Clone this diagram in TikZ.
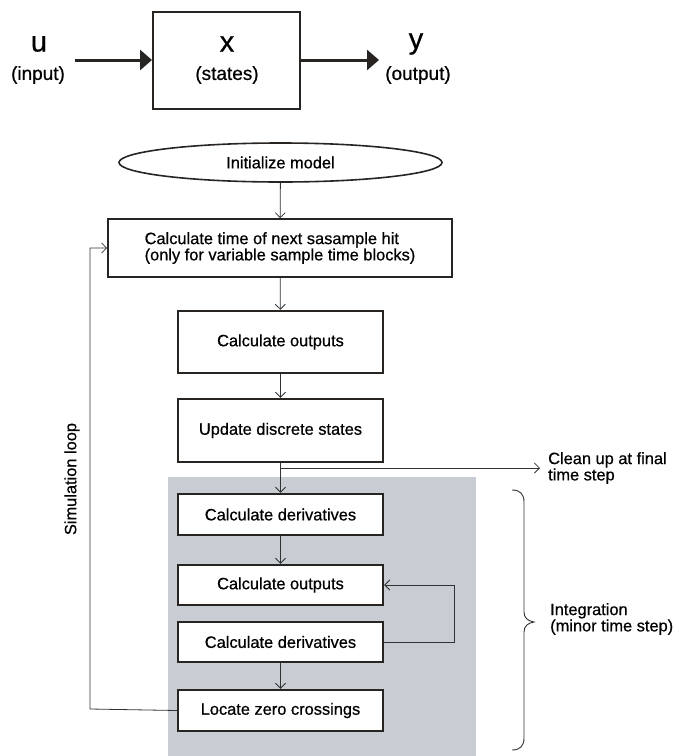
\documentclass[tikz,border=0pt]{standalone}
\usepackage{fontspec}
\setmainfont{Liberation Sans}[FakeBold=0.6]
\usetikzlibrary{arrows.meta,shapes.geometric}
\definecolor{graybg}{RGB}{200,205,212}
\definecolor{ink}{RGB}{40,36,33}
\definecolor{thin}{RGB}{50,50,50}
\tikzset{
  flowbox/.style={draw=ink,line width=2.4pt,fill=white,minimum width=205pt,inner sep=0pt,font=\fontsize{16.4}{15}\selectfont},
  conn/.style={draw=thin,line width=0.8pt,-{Straight Barb[length=5pt,width=10pt]}},
  bigarrow/.style={draw=ink,line width=3pt,-{Triangle[length=12pt,width=20pt]}},
  lbl/.style={font=\fontsize{16.4}{15}\selectfont,align=left,inner sep=0pt},
}
\begin{document}
\begin{tikzpicture}[x=1pt,y=-1pt]
\useasboundingbox (0,0) rectangle (686,756);
% top system block
\node[draw=ink,line width=2pt,minimum width=147pt,minimum height=97pt,inner sep=0pt] (sys) at (226.5,60.5) {};
\node[font=\fontsize{29}{29}\selectfont,inner sep=0pt] (u) at (39,44) {u};
\node[font=\fontsize{19}{19}\selectfont,inner sep=0pt] (uin) at (38,75) {(input)};
\node[font=\fontsize{29}{29}\selectfont,inner sep=0pt] (xs) at (227,44) {x};
\node[font=\fontsize{19}{19}\selectfont,inner sep=0pt] (xst) at (227,75) {(states)};
\node[font=\fontsize{29}{29}\selectfont,inner sep=0pt] (y) at (416,44) {y};
\node[font=\fontsize{19}{19}\selectfont,inner sep=0pt] (yout) at (418,75) {(output)};
\coordinate (uarr) at (75,60);
\coordinate (yarr) at (379,60);
\draw[bigarrow] (uarr) -- (sys.west |- uarr);
\draw[bigarrow] (sys.east |- yarr) -- (yarr);

% gray integration region
\fill[graybg] (168,477) rectangle (476,756);

% flow chart
\node[draw=ink,line width=1.6pt,ellipse,minimum width=323pt,minimum height=39pt,inner sep=0pt,font=\fontsize{16.4}{15}\selectfont] (init) at (280.5,162.5) {Initialize model};
\node[draw=ink,line width=1.6pt,minimum width=344pt,minimum height=58pt,inner sep=0pt,font=\fontsize{16.4}{15}\selectfont,align=left] (hit) at (280,248) {Calculate time of next sasample hit\\(only for variable sample time blocks)};
\node[flowbox,minimum height=62pt] (out1) at (280.5,342) {Calculate outputs};
\node[flowbox,minimum height=63pt] (upd) at (280.5,430.5) {Update discrete states};
\node[flowbox,minimum height=41pt] (der1) at (280.5,514.5) {Calculate derivatives};
\node[flowbox,minimum height=40pt] (out2) at (280.5,585) {Calculate outputs};
\node[flowbox,minimum height=40pt] (der2) at (280.5,642) {Calculate derivatives};
\node[flowbox,minimum height=41pt] (zero) at (280.5,710.5) {Locate zero crossings};

\draw[conn] (init) -- (hit);
\draw[conn] (hit) -- (out1);
\draw[conn] (out1) -- (upd);
\draw[conn] (upd) -- (der1);
\draw[conn] (der1) -- (out2);
\draw[conn] (der2) -- (zero);

% clean up branch
\coordinate (br) at (280.5,468);
\node[lbl,anchor=north west] (clean) at (548,452) {Clean up at final\\time step};
\coordinate (cleanend) at (540,468);
\draw[conn] (br) -- (cleanend);

% inner feedback loop
\coordinate (fb) at (454,642);
\draw[conn] (der2.east) -- (fb) |- (out2.east);

% simulation loop
\coordinate (sl) at (90,709);
\draw[conn] (zero.west) -- (sl) |- (hit.west);
\node[lbl,rotate=90] (simlbl) at (72,479) {Simulation loop};

% brace
\draw[draw=thin,line width=0.9pt] (512,490) .. controls (520,490) and (524,494) .. (524,502)
  -- (524,612) .. controls (524,618) and (528,621) .. (534,622)
  .. controls (528,623) and (524,626) .. (524,632)
  -- (524,738) .. controls (524,746) and (520,750) .. (512,750);
\node[lbl,anchor=north west] (integ) at (550,603) {Integration\\(minor time step)};
\end{tikzpicture}
\end{document}
